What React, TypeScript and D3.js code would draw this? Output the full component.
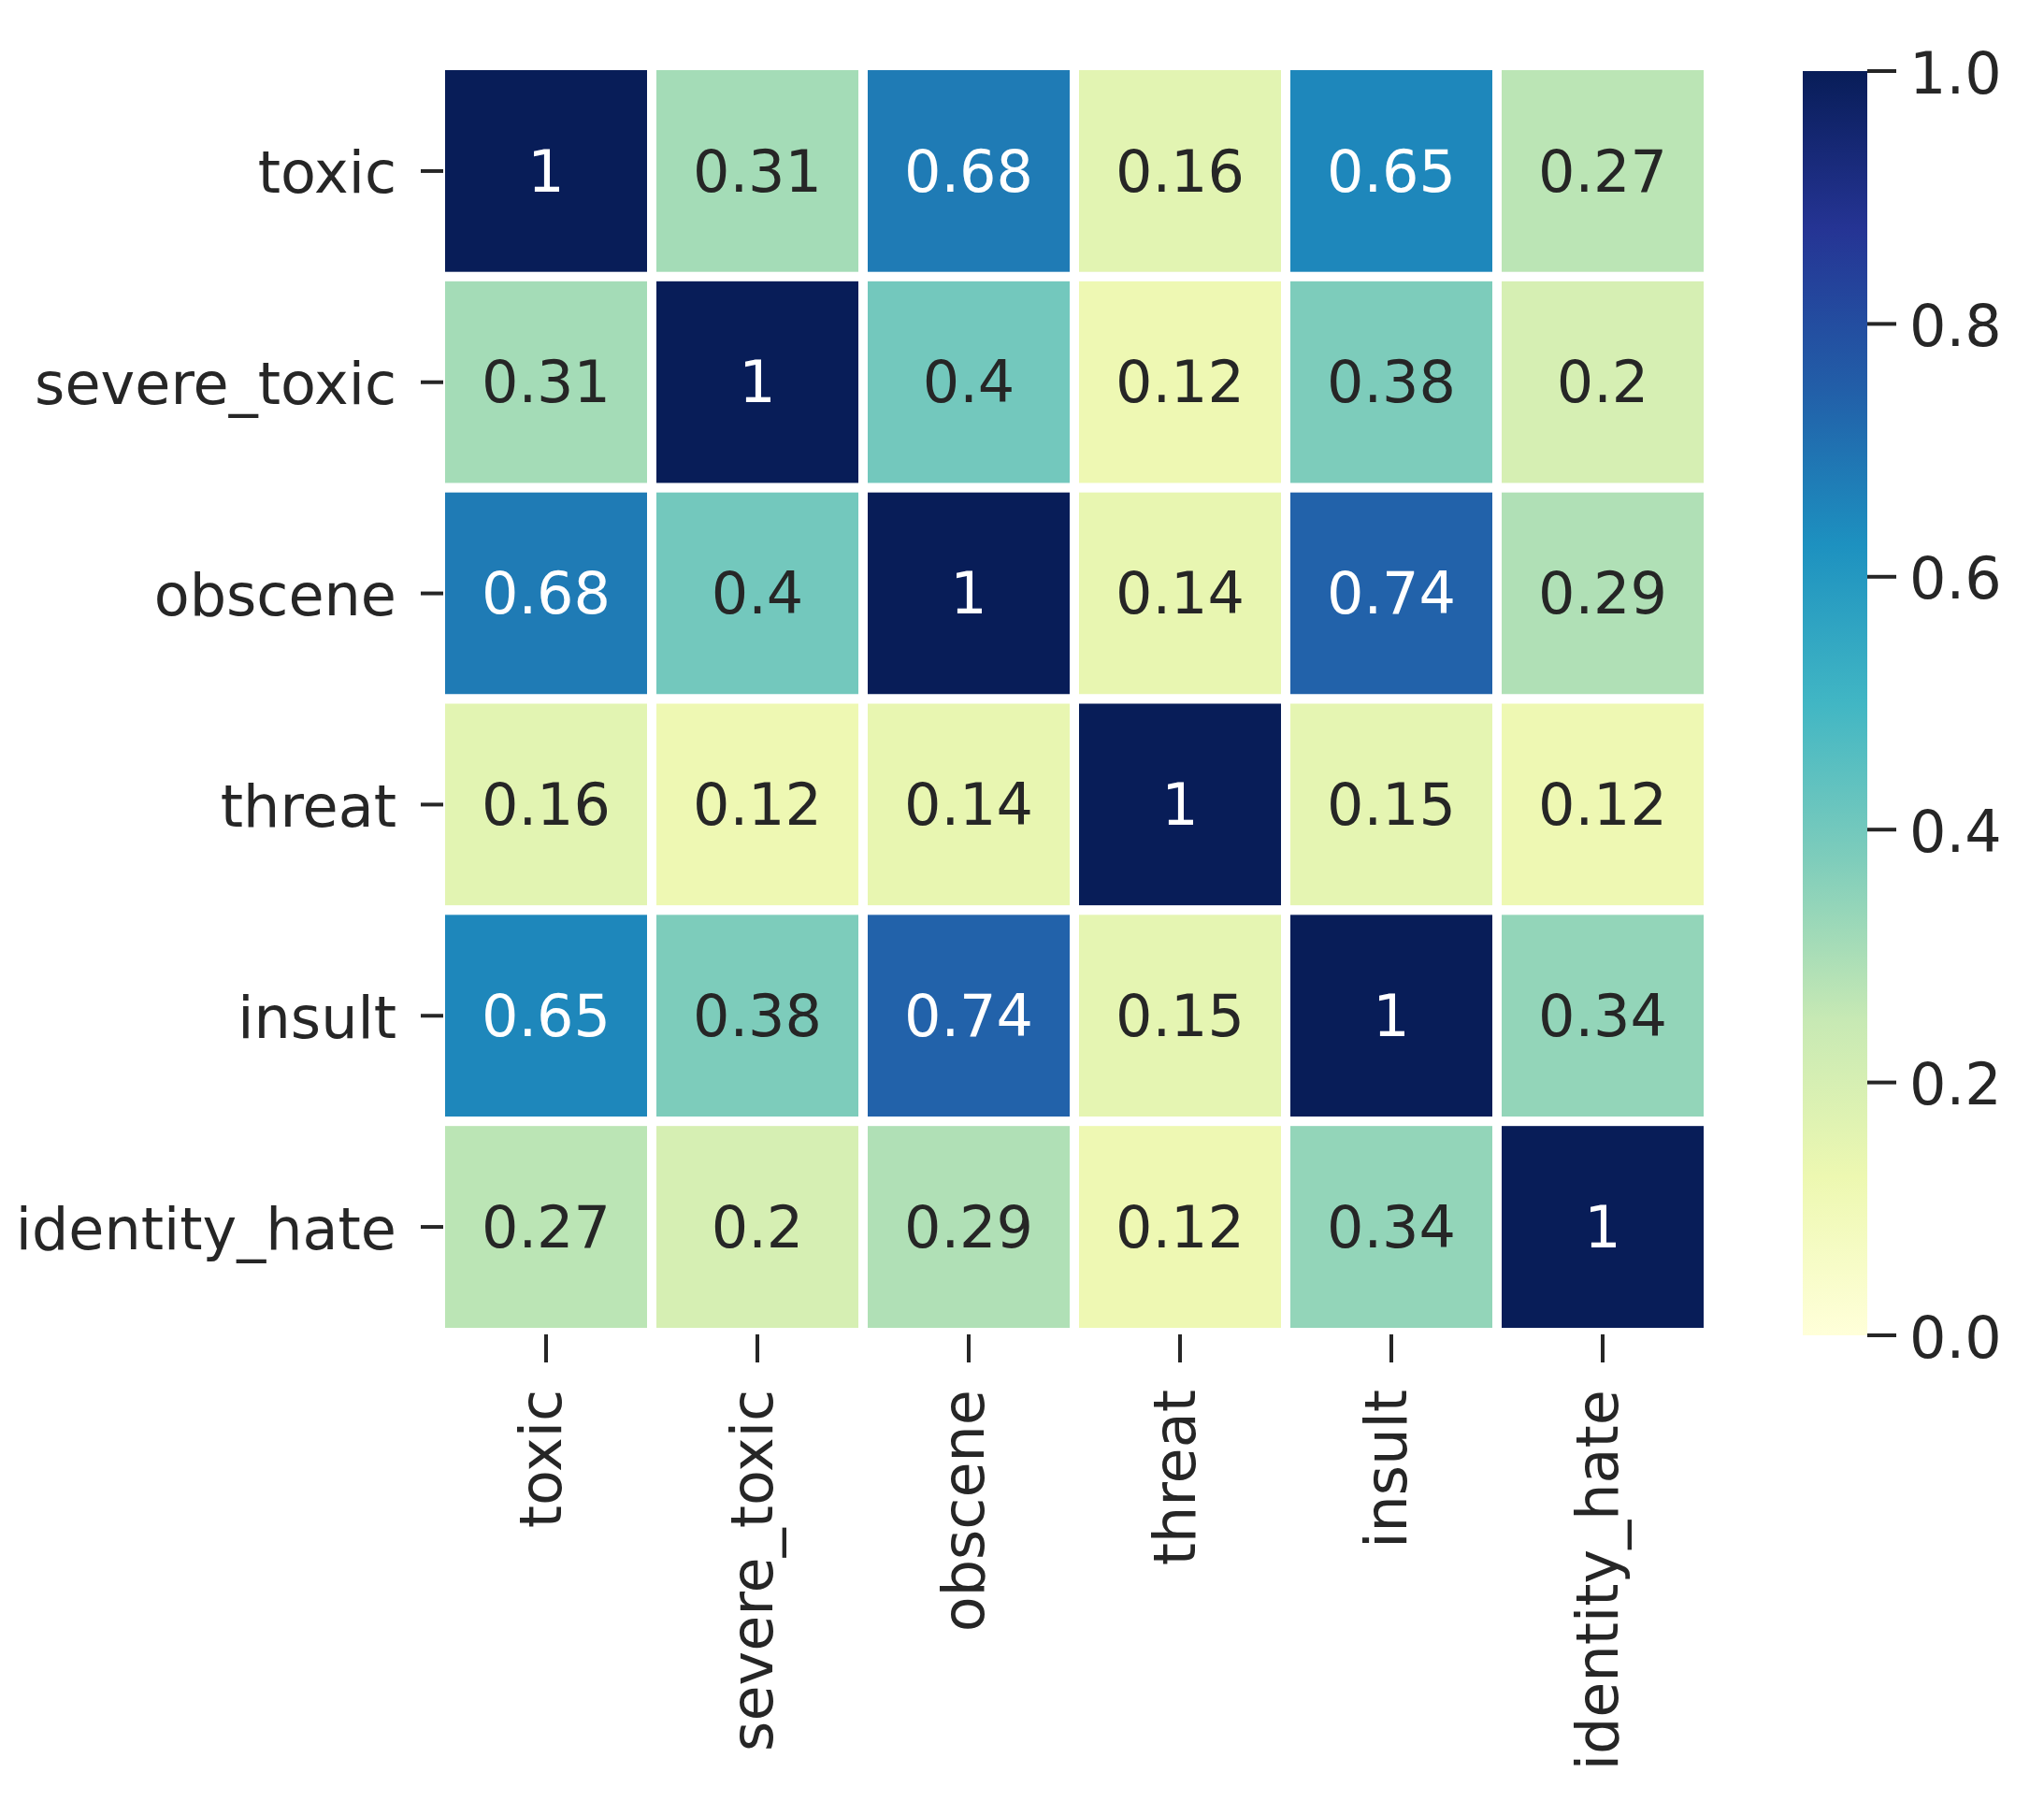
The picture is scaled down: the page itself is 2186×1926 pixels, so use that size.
import React from "react";
import * as d3 from "d3";

const labels = ["toxic", "severe_toxic", "obscene", "threat", "insult", "identity_hate"];

const rowToxic = [1, 0.31, 0.68, 0.16, 0.65, 0.27];
const rowSevere = [0.31, 1, 0.4, 0.12, 0.38, 0.2];
const rowObscene = [0.68, 0.4, 1, 0.14, 0.74, 0.29];
const rowThreat = [0.16, 0.12, 0.14, 1, 0.15, 0.12];
const rowInsult = [0.65, 0.38, 0.74, 0.15, 1, 0.34];
const rowIdentity = [0.27, 0.2, 0.29, 0.12, 0.34, 1];
const matrix = [rowToxic, rowSevere, rowObscene, rowThreat, rowInsult, rowIdentity];

const colorbarTicks = [0, 0.2, 0.4, 0.6, 0.8, 1.0];

// matplotlib YlGnBu (ColorBrewer 9-class)
const ylgnbu = ["#ffffd9", "#edf8b1", "#c7e9b4", "#7fcdbb", "#41b6c4", "#1d91c0", "#225ea8", "#253494", "#081d58"];

const W = 2186;
const H = 1926;
const FONT = "'DejaVu Sans', sans-serif";
const FS = 62;
const TEXT = "#262626";

function relLum(c: string) {
  const rgb = d3.rgb(c);
  const f = (v: number) => {
    const s = v / 255;
    return s <= 0.03928 ? s / 12.92 : Math.pow((s + 0.055) / 1.055, 2.4);
  };
  return 0.2126 * f(rgb.r) + 0.7152 * f(rgb.g) + 0.0722 * f(rgb.b);
}

export default function App() {
  const x = d3.scaleBand<string>().domain(labels).range([471, 1827]).padding(0);
  const y = d3.scaleBand<string>().domain(labels).range([70, 1425]).padding(0);
  const color = d3
    .scaleLinear<string>()
    .domain(ylgnbu.map((_, i) => i / (ylgnbu.length - 1)))
    .range(ylgnbu)
    .clamp(true);
  const cb = d3.scaleLinear().domain([0, 1]).range([1428, 76]);
  const fmt = d3.format(".2~g");
  const cbFmt = d3.format(".1f");
  const bw = x.bandwidth();
  const bh = y.bandwidth();
  const cbX0 = 1928;
  const cbX1 = 1997;

  return (
    <svg
      width={W}
      height={H}
      viewBox={`0 0 ${W} ${H}`}
      style={{ position: "absolute", left: 0, top: 0, background: "#fff" }}
      fontFamily={FONT}
    >
      <rect x={0} y={0} width={W} height={H} fill="#fff" />
      <defs>
        <linearGradient id="cbgrad" x1="0" y1="1" x2="0" y2="0">
          {ylgnbu.map((c, i) => (
            <stop key={i} offset={`${(i / (ylgnbu.length - 1)) * 100}%`} stopColor={c} />
          ))}
        </linearGradient>
      </defs>

      {/* cells */}
      {matrix.map((row, ri) =>
        row.map((v, ci) => {
          const fill = color(v);
          const tc = relLum(fill) > 0.408 ? TEXT : "#ffffff";
          const cx = (x(labels[ci]) as number) + bw / 2;
          const cy = (y(labels[ri]) as number) + bh / 2;
          return (
            <g key={`${ri}-${ci}`}>
              <rect
                x={x(labels[ci])}
                y={y(labels[ri])}
                width={bw}
                height={bh}
                fill={fill}
                stroke="#ffffff"
                strokeWidth={10}
              />
              <text x={cx} y={cy} dy="0.35em" textAnchor="middle" fontSize={FS} fill={tc}>
                {fmt(v)}
              </text>
            </g>
          );
        })
      )}

      {/* y axis */}
      {labels.map((l) => {
        const cy = (y(l) as number) + bh / 2;
        return (
          <g key={`y-${l}`}>
            <line x1={450} x2={474} y1={cy} y2={cy} stroke={TEXT} strokeWidth={4} />
            <text x={424} y={cy} dy="0.38em" textAnchor="end" fontSize={FS} fill={TEXT}>
              {l}
            </text>
          </g>
        );
      })}

      {/* x axis */}
      {labels.map((l) => {
        const cx = (x(l) as number) + bw / 2;
        return (
          <g key={`x-${l}`}>
            <line x1={cx} x2={cx} y1={1427} y2={1457} stroke={TEXT} strokeWidth={4} />
            <text
              transform={`translate(${cx},1486) rotate(-90)`}
              dy="0.25em"
              textAnchor="end"
              fontSize={FS}
              fill={TEXT}
            >
              {l}
            </text>
          </g>
        );
      })}

      {/* colorbar */}
      <rect x={cbX0} y={cb(1)} width={cbX1 - cbX0} height={cb(0) - cb(1)} fill="url(#cbgrad)" />
      {colorbarTicks.map((t) => (
        <g key={`cb-${t}`}>
          <line x1={cbX1} x2={2028} y1={cb(t)} y2={cb(t)} stroke={TEXT} strokeWidth={4} />
          <text x={2042} y={cb(t)} dy="0.38em" textAnchor="start" fontSize={FS} fill={TEXT}>
            {cbFmt(t)}
          </text>
        </g>
      ))}
    </svg>
  );
}
